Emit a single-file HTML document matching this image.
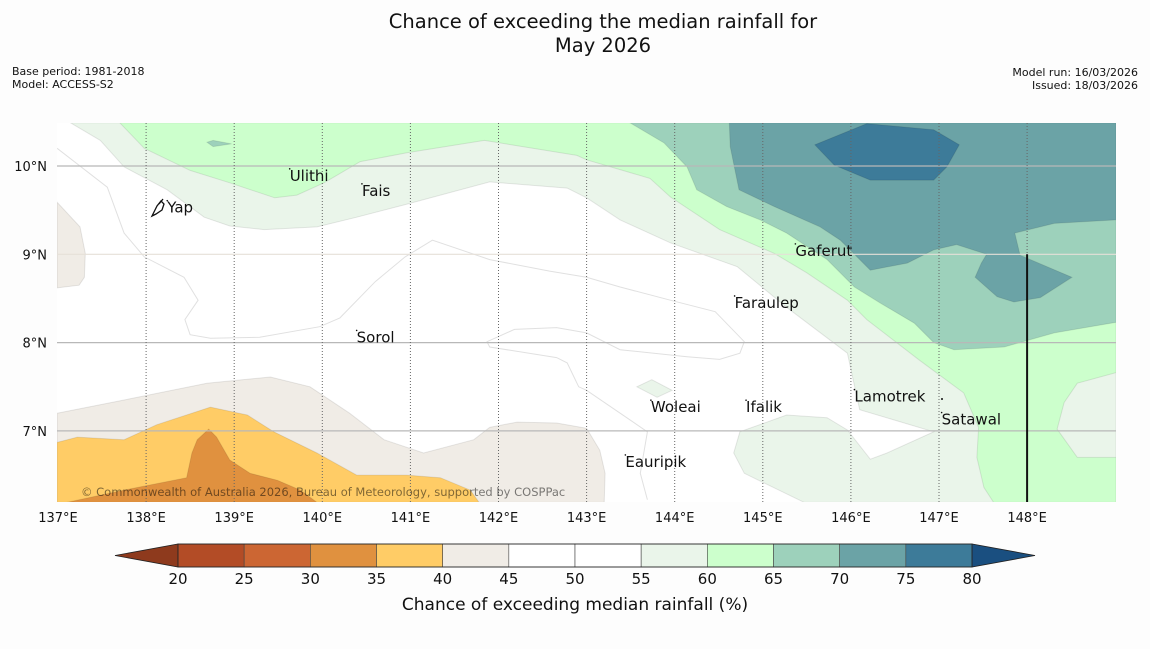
<!DOCTYPE html>
<html><head><meta charset="utf-8"><style>
html,body{margin:0;padding:0;background:#fdfdfd;}
body{width:1150px;height:644px;overflow:hidden;font-family:"Liberation Sans","DejaVu Sans",sans-serif;}
svg text{font-family:"DejaVu Sans","Liberation Sans",sans-serif;}
</style></head><body>
<svg id="chart" width="1150" height="644" viewBox="0 0 1150 644" xmlns="http://www.w3.org/2000/svg">
<text x="603" y="28" font-size="19.5" text-anchor="middle" fill="#111">Chance of exceeding the median rainfall for</text>
<text x="603" y="52" font-size="19.5" text-anchor="middle" fill="#111">May 2026</text>
<text x="12" y="75" font-size="11" fill="#111">Base period: 1981-2018</text>
<text x="12" y="88" font-size="11" fill="#111">Model: ACCESS-S2</text>
<text x="1138" y="76" font-size="11" text-anchor="end" fill="#111">Model run: 16/03/2026</text>
<text x="1138" y="89" font-size="11" text-anchor="end" fill="#111">Issued: 18/03/2026</text>
<defs><clipPath id="mapclip"><rect x="57" y="123" width="1059" height="379"/></clipPath></defs>
<rect x="57" y="123" width="1059" height="379" fill="#ffffff"/>
<g id="fills" clip-path="url(#mapclip)"></g>
<g id="grid" clip-path="url(#mapclip)"></g>
<g id="places"></g>
<g id="axes"></g>
<text x="81" y="496" font-size="11.5" fill="#000" fill-opacity="0.5">© Commonwealth of Australia 2026, Bureau of Meteorology, supported by COSPPac</text>
<g id="colorbar"></g>
<text x="575" y="610" font-size="17" text-anchor="middle" fill="#111">Chance of exceeding median rainfall (%)</text>
</svg>
<script>
// Data
const lonTicks=[137,138,139,140,141,142,143,144,145,146,147,148];
const latTicks=[10,9,8,7];
const levels=[20,25,30,35,40,45,50,55,60,65,70,75,80];
const levelColors=["#b34c26","#cc6633","#e0913f","#ffcc66","#f0ece6","#ffffff","#ffffff","#eaf5ea","#ccffcc","#9dd1bb","#6ba3a6","#3d7b99"];
const lowColor="#8e3a1d", highColor="#1a4f80";
const c4045left=[[136.99,9.59],[137.25,9.31],[137.31,9.01],[137.30,8.74],[137.24,8.65],[136.99,8.62]];
const c4045bottom=[[136.99,7.20],[137.75,7.35],[138.69,7.54],[139.41,7.61],[139.86,7.50],[140.31,7.20],[140.70,6.90],[141.15,6.75],[141.72,6.90],[141.90,7.04],[142.21,7.10],[142.66,7.09],[143.00,7.03],[143.15,6.78],[143.21,6.52],[143.20,6.19],[136.99,6.19]];
const c3540=[[136.99,6.87],[137.22,6.93],[137.75,6.90],[138.12,7.07],[138.73,7.27],[139.15,7.18],[139.45,6.99],[139.94,6.75],[140.39,6.50],[140.96,6.50],[141.34,6.47],[141.68,6.33],[141.78,6.19],[136.99,6.19]];
const c3035=[[137.10,6.19],[137.75,6.33],[138.46,6.47],[138.52,6.75],[138.58,6.90],[138.71,7.02],[138.80,6.93],[138.95,6.67],[139.18,6.52],[139.49,6.44],[139.75,6.33],[139.94,6.19]];
const c5560=[[137.14,10.49],[137.48,10.29],[137.75,9.99],[138.24,9.73],[138.66,9.42],[138.95,9.32],[139.34,9.28],[139.94,9.31],[140.39,9.42],[140.93,9.56],[141.90,9.82],[142.78,9.75],[143.00,9.64],[143.38,9.39],[143.95,9.13],[144.71,8.86],[145.27,8.40],[145.96,7.88],[146.10,7.24],[146.94,6.99],[146.41,6.75],[146.22,6.68],[145.96,7.01],[145.73,7.15],[145.27,7.18],[144.74,6.99],[144.67,6.75],[144.79,6.52],[145.47,6.19],[149.01,6.19],[149.01,10.49]];
const c6065=[[137.70,10.49],[137.98,10.20],[138.50,9.95],[138.95,9.81],[139.46,9.64],[139.71,9.67],[140.02,9.81],[140.43,10.05],[140.96,10.15],[141.84,10.29],[142.89,10.12],[143.00,10.07],[143.72,9.86],[143.95,9.65],[144.51,9.28],[145.13,9.01],[145.50,8.79],[145.96,8.48],[146.18,8.26],[146.78,7.80],[147.28,7.43],[147.45,7.04],[147.43,6.70],[147.51,6.36],[147.62,6.19],[149.01,6.19],[149.01,10.49]];
const c6570=[[143.49,10.49],[143.88,10.26],[144.14,9.99],[144.25,9.73],[144.59,9.54],[144.97,9.39],[145.27,9.24],[145.73,8.94],[146.04,8.63],[146.33,8.45],[146.72,8.22],[146.94,8.00],[147.17,7.92],[147.74,7.95],[148.31,8.11],[149.01,8.23],[149.01,10.49]];
const c6570yap=[[138.69,10.27],[138.76,10.29],[138.97,10.25],[138.76,10.22]];
const c7075=[[144.62,10.49],[144.63,10.22],[144.73,9.73],[145.13,9.54],[145.65,9.31],[145.88,9.16],[146.22,8.82],[146.64,8.90],[146.94,9.05],[147.20,9.11],[147.54,9.00],[147.48,8.90],[147.41,8.74],[147.66,8.52],[147.85,8.46],[148.15,8.51],[148.51,8.74],[147.92,8.99],[147.86,9.24],[148.31,9.35],[149.01,9.39],[149.01,10.49]];
const c7580=[[145.59,10.24],[146.18,10.48],[146.94,10.41],[147.23,10.24],[147.09,9.99],[146.94,9.84],[146.22,9.84],[145.81,10.01]];
const c5560right=[[149.01,7.66],[148.57,7.54],[148.42,7.32],[148.34,7.02],[148.57,6.70],[149.01,6.70]];
const c5560woleai=[[143.57,7.50],[143.74,7.58],[143.97,7.46],[143.80,7.38]];
const line4550=[[136.99,10.20],[137.56,9.76],[137.75,9.24],[137.98,8.97],[138.43,8.74],[138.59,8.48],[138.44,8.26],[138.50,8.09],[138.73,8.05],[139.29,8.06],[139.97,8.18],[140.20,8.28],[140.60,8.69],[140.94,8.97],[141.25,9.16],[141.90,8.94],[142.58,8.81],[143.00,8.74],[143.38,8.63],[143.95,8.48],[144.46,8.35],[144.79,8.01],[144.74,7.88],[144.51,7.81],[144.14,7.84],[143.38,7.92],[143.00,8.11],[142.66,8.17],[142.18,8.15],[141.87,8.01],[141.90,7.95],[142.66,7.83],[142.78,7.77],[142.91,7.50],[143.00,7.46],[143.69,6.99],[143.61,6.52],[143.69,6.22]];
const placeNames=["Ulithi","Fais","Yap","Gaferut","Faraulep","Sorol","Woleai","Ifalik","Lamotrek","Satawal","Eauripik"];
const placeLon=[139.63,140.45,138.24,145.37,144.68,140.39,143.73,144.81,146.04,147.03,143.44];
const placeLat=[9.90,9.73,9.54,9.05,8.46,8.07,7.28,7.28,7.40,7.14,6.66];

const NS="http://www.w3.org/2000/svg";
function xS(lon){return 58+(lon-137)*88.1;}
function yS(lat){return 166-(lat-10)*88.3;}
function mk(tag,attrs,parent){const e=document.createElementNS(NS,tag);for(const k in attrs)e.setAttribute(k,attrs[k]);parent.appendChild(e);return e;}
function pts(a){return a.map(p=>xS(p[0]).toFixed(1)+","+yS(p[1]).toFixed(1)).join(" ");}
const fills=document.getElementById('fills');
const layers=[[c4045left,4,"fill-40-45-west"],[c4045bottom,4,"fill-40-45-south"],[c3540,3,"fill-35-40"],[c3035,2,"fill-30-35"],[c5560,7,"fill-55-60"],[c6065,8,"fill-60-65"],[c6570,9,"fill-65-70"],[c6570yap,9,"fill-65-70-small"],[c7075,10,"fill-70-75"],[c7580,11,"fill-75-80"],[c5560right,7,"fill-55-60-east"],[c5560woleai,7,"fill-55-60-woleai"]];
layers.forEach(L=>{
  const p=mk('polygon',{points:pts(L[0]),fill:levelColors[L[1]],stroke:"rgba(0,0,0,0.09)","stroke-width":1},fills);
  
  
});
const cl=mk('polyline',{points:pts(line4550),fill:"none",stroke:"rgba(0,0,0,0.12)","stroke-width":1},fills);



const grid=document.getElementById('grid'), axes=document.getElementById('axes');
latTicks.forEach(v=>{
  const y=yS(v);
  const l=mk('line',{x1:57,x2:1116,y1:y,y2:y,stroke:v===9?"#e6e0d8":"#b8b8b8","stroke-width":1.2},grid);
  
  
  const t=mk('text',{x:47,y:y+5,"font-size":13,"text-anchor":"end",fill:"#111"},axes);
  t.textContent=v+"°N";
  
  
});
lonTicks.forEach(v=>{
  const x=xS(v);
  if(v>137){
    const l=mk('line',{x1:x,x2:x,y1:123,y2:502,stroke:"#666","stroke-width":1,"stroke-dasharray":"1,2"},grid);
    
    
  }
  const t=mk('text',{x:x,y:522,"font-size":13,"text-anchor":"middle",fill:"#111"},axes);
  t.textContent=v+"°E";
  
  
});
const bl=mk('line',{x1:xS(148),x2:xS(148),y1:yS(9),y2:502,stroke:"#111","stroke-width":2},grid);



const places=document.getElementById('places');
placeNames.forEach((n,i)=>{
  const x=xS(placeLon[i]), y=yS(placeLat[i])+6;
  const d=mk('circle',{cx:x,cy:y-12,r:0.8,fill:"#111"},places);
  
  
  const t=mk('text',{x:x,y:y,"font-size":15,fill:"#111"},places);
  t.textContent=n;
  
  
});
const yap=mk('path',{d:"M152,216 L157,206 L161,201 L164,204 L162,210 L156,214 Z M159,204 L163,199",fill:"none",stroke:"#111","stroke-width":1.3},places);


const dot=mk('circle',{cx:942,cy:399,r:1,fill:"#111"},places);



// colorbar
const cb=document.getElementById('colorbar');
const cbX0=178, cbY=544, cbH=23;
function cbx(v){return cbX0+(v-20)/60*794;}
const lt=mk('polygon',{points:`115,${cbY+cbH/2} ${cbX0},${cbY} ${cbX0},${cbY+cbH}`,fill:lowColor,stroke:"#222","stroke-width":0.8},cb);


const ht=mk('polygon',{points:`1035,${cbY+cbH/2} ${cbx(80)},${cbY} ${cbx(80)},${cbY+cbH}`,fill:highColor,stroke:"#222","stroke-width":0.8},cb);


levelColors.forEach((c,i)=>{
  const r=mk('rect',{x:cbx(levels[i]),y:cbY,width:cbx(levels[i+1])-cbx(levels[i]),height:cbH,fill:c,stroke:"#444","stroke-width":0.6},cb);
  
  
});
const fr=mk('rect',{x:cbX0,y:cbY,width:794,height:cbH,fill:"none",stroke:"#222","stroke-width":0.8},cb);


levels.forEach(v=>{
  const t=mk('text',{x:cbx(v),y:584,"font-size":15,"text-anchor":"middle",fill:"#111"},cb);
  t.textContent=v;
  
  
});
</script>
</body></html>
